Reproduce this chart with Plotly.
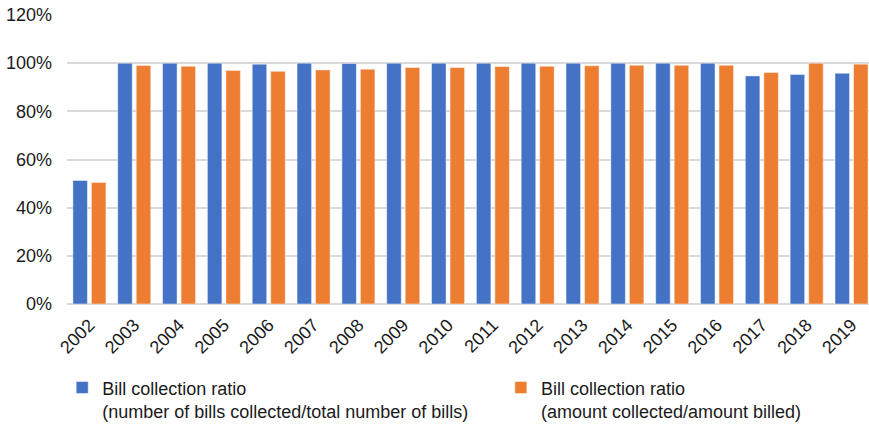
import plotly.graph_objects as go

# Annual bill collection ratios, 2002-2019
years = [str(y) for y in range(2002, 2020)]
count_ratio = [0.513, 1.0, 1.0, 1.0, 0.996, 1.0, 0.999, 1.0, 1.0,
               1.0, 1.0, 1.0, 1.0, 1.0, 1.0, 0.947, 0.953, 0.958]
amount_ratio = [0.505, 0.990, 0.987, 0.970, 0.966, 0.972, 0.975, 0.982, 0.982,
                0.986, 0.987, 0.989, 0.991, 0.991, 0.991, 0.961, 1.0, 0.996]

count_name = "Bill collection ratio<br>(number of bills collected/total number of bills)"
amount_name = "Bill collection ratio<br>(amount collected/amount billed)"

FONT = "Liberation Sans, Arial, sans-serif"

fig = go.Figure()
fig.add_trace(go.Bar(
    x=years, y=count_ratio, name=count_name, legend="legend",
    marker=dict(color="#4472C4", line=dict(color="rgba(255,255,255,0.45)", width=1)),
))
fig.add_trace(go.Bar(
    x=years, y=amount_ratio, name=amount_name, legend="legend2",
    marker=dict(color="#ED7D31", line=dict(color="rgba(255,255,255,0.45)", width=1)),
))

legend_style = dict(
    orientation="h", yanchor="top", y=-0.226, xanchor="left",
    valign="top", font=dict(size=18), itemclick=False, itemdoubleclick=False,
    bgcolor="rgba(0,0,0,0)", tracegroupgap=0,
)

fig.update_layout(
    width=869, height=424,
    margin=dict(l=67, r=0, t=15, b=119.5, autoexpand=False),
    paper_bgcolor="white", plot_bgcolor="white",
    font=dict(family=FONT, size=18, color="#1a1a1a"),
    barmode="group", bargap=0.174, bargroupgap=0.216,
    showlegend=True,
    legend=dict(x=-0.006, **legend_style),
    legend2=dict(x=0.541, **legend_style),
)
fig.update_xaxes(
    type="category", range=[-0.5, 17.39], tickangle=-45, automargin=False,
    showgrid=False, showline=False, ticks="", tickfont=dict(size=18),
    ticklabelstandoff=6,
)
fig.update_yaxes(
    range=[0, 1.2], dtick=0.2, tickformat=".0%", automargin=False,
    showgrid=True, gridcolor="#D9D9D9", gridwidth=1.5,
    zeroline=True, zerolinecolor="#D9D9D9", zerolinewidth=1.5,
    ticks="", ticklabelstandoff=14, tickfont=dict(size=18),
)

fig.write_html("out.html")
